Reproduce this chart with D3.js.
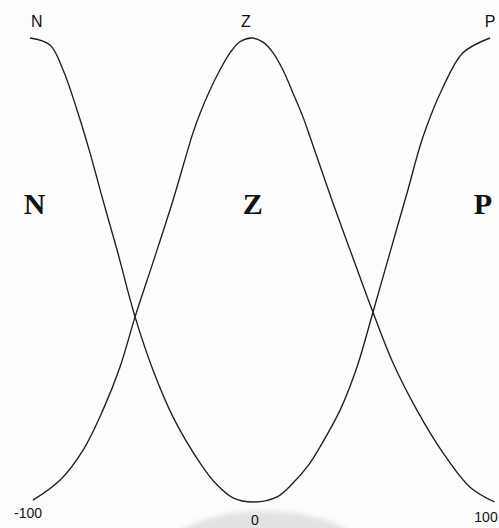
<!DOCTYPE html>
<html>
  <head>
    <meta charset="utf-8" />
    <title>N Z P</title>
    <script src="https://d3js.org/d3.v7.min.js"></script>
  </head>

  <style>
    body {
      background: #fdfdfd;
      margin: 0px;
      padding: 0px;
      overflow: hidden;
    }

    .curve {
      fill: none;
      stroke: #1e1e1e;
      stroke-width: 1.35;
    }

    .top-label {
      font-family: "Liberation Sans", Arial, sans-serif;
      font-size: 16px;
      fill: #111;
    }

    .big-label {
      font-family: "Liberation Serif", "Times New Roman", serif;
      font-weight: bold;
      font-size: 30px;
      fill: #111;
    }

    .tick-label {
      font-family: "Liberation Sans", Arial, sans-serif;
      font-size: 14px;
      fill: #111;
    }
  </style>

  <body>
    <script>

      // values: x in [-100, 100], membership in [0, 1]
      // outer curve: N on the left, P on the right
      var outerX = [-100, -91.1, -85.3, -79.1, -73.3, -67.6, -61.3, -53.3, -45.3, -36.4, -24.4, -16.9, -9.8, -0.9,
                    9.4, 16.2, 23.4, 27.7, 36.2, 43.4, 50.2, 57.4, 64.7, 71.5, 80.0, 88.5, 100];
      var outerY = [1.0, 0.985, 0.931, 0.845, 0.752, 0.651, 0.543, 0.399, 0.284, 0.183, 0.084, 0.037, 0.009, 0,
                    0.011, 0.041, 0.084, 0.119, 0.198, 0.291, 0.409, 0.537, 0.666, 0.787, 0.894, 0.968, 1.0];

      // middle curve: Z
      var zX = [-98.7, -86.7, -76.4, -67.6, -60.0, -53.3, -45.3, -36.4, -27.6, -24.4, -20.0, -15.6, -11.1, -6.7, -1.3,
                3.4, 7.7, 11.9, 16.2, 20.4, 23.4, 33.2, 41.7, 50.2, 58.7, 68.9, 80.0, 91.5, 102];
      var zY = [0.004, 0.047, 0.112, 0.198, 0.291, 0.399, 0.517, 0.651, 0.795, 0.838, 0.888, 0.931, 0.968, 0.992, 1.0,
                0.991, 0.968, 0.931, 0.881, 0.830, 0.787, 0.644, 0.526, 0.409, 0.300, 0.198, 0.106, 0.032, 0];

      var topLabels = ["N", "Z", "P"];
      var topLabelX = [-97, -4, 100];
      var bigLabels = ["N", "Z", "P"];
      var bigLabelX = [-98, -1, 97];
      var tickValues = [-100, 0, 100];
      var tickText = ["-100", "0", "100"];

      var width = 499, height = 528;

      var x = d3.scaleLinear()
          .domain([-100, 0, 100])
          .range([30, 255, 490]);

      var y = d3.scaleLinear()
          .domain([0, 1])
          .range([502, 38]);

      var svg = d3.select("body").append("svg")
          .attr("width", width)
          .attr("height", height);

      // faint grey scan shadow near the bottom
      var defs = svg.append("defs");
      defs.append("filter").attr("id", "soft")
        .append("feGaussianBlur")
          .attr("stdDeviation", 2.5);

      svg.append("ellipse")
          .attr("cx", x(4))
          .attr("cy", 568)
          .attr("rx", 112)
          .attr("ry", 57)
          .style("fill", "#e2e2e2")
          .style("filter", "url(#soft)");

      var line = d3.line()
          .curve(d3.curveCatmullRom.alpha(0.5))
          .x(function(d) { return x(d[0]); })
          .y(function(d) { return y(d[1]); });

      svg.append("path")
          .datum(d3.zip(outerX, outerY))
          .attr("class", "curve")
          .attr("d", line);

      svg.append("path")
          .datum(d3.zip(zX, zY))
          .attr("class", "curve")
          .attr("d", line);

      svg.selectAll(".top-label")
          .data(topLabels)
        .enter().append("text")
          .attr("class", "top-label")
          .attr("text-anchor", "middle")
          .attr("x", function(d, i) { return x(topLabelX[i]); })
          .attr("y", 27)
          .text(function(d) { return d; });

      svg.selectAll(".big-label")
          .data(bigLabels)
        .enter().append("text")
          .attr("class", "big-label")
          .attr("text-anchor", "middle")
          .attr("x", function(d, i) { return x(bigLabelX[i]); })
          .attr("y", 214)
          .text(function(d) { return d; });

      svg.selectAll(".tick-label")
          .data(tickValues)
        .enter().append("text")
          .attr("class", "tick-label")
          .attr("text-anchor", "middle")
          .attr("x", function(d, i) { return x(d) + [-2, 0, -4][i]; })
          .attr("y", function(d, i) { return [518, 525, 522][i]; })
          .text(function(d, i) { return tickText[i]; });

    </script>
  </body>
</html>
